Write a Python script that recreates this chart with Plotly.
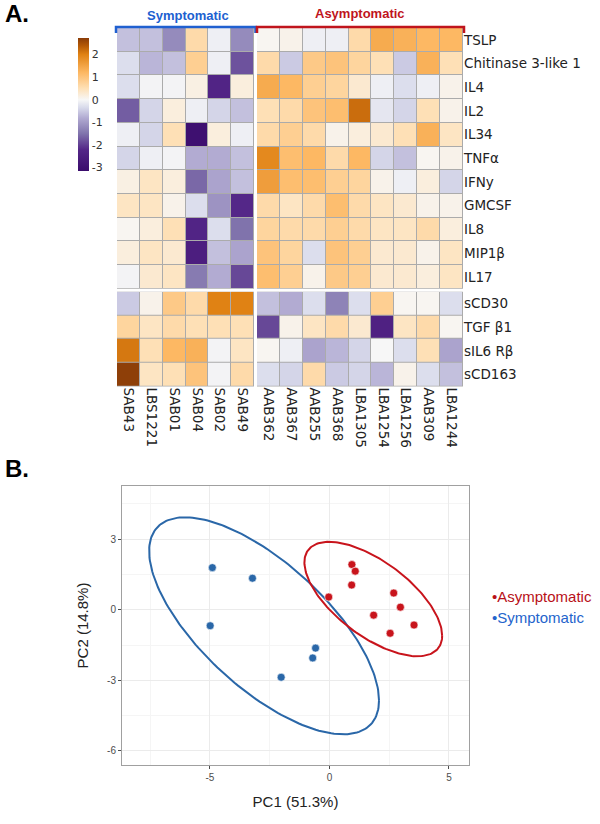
import numpy as np
import plotly.graph_objects as go

W, H = 600, 824

# ---------------- data ----------------
symptomatic = ["SAB43", "LBS1221", "SAB01", "SAB04", "SAB02", "SAB49"]
asymptomatic = ["AAB362", "AAB367", "AAB255", "AAB368", "LBA1305",
                "LBA1254", "LBA1256", "AAB309", "LBA1244"]
rows_top = ["TSLP", "Chitinase 3-like 1", "IL4", "IL2", "IL34", "TNFα",
            "IFNy", "GMCSF", "IL8", "MIP1β", "IL17"]
rows_bottom = ["sCD30", "TGF β1", "sIL6 Rβ", "sCD163"]

# z-scores, one row per analyte: 6 symptomatic then 9 asymptomatic
zscores = [
    [-0.6, -0.6, -1.2, 0.6, -0.1, -1.2, 0.05, 0.1, -0.1, -0.1, 0.6, 1.4, 1.3, 1.2, 1.2],
    [-0.3, -0.7, -0.6, 0.8, -0.1, -1.8, 0.6, -0.5, 0.9, 1.0, 0.7, 0.5, -0.5, 1.3, 0.5],
    [-0.3, -0.05, -0.05, 0.15, -2.3, 0.2, 1.4, 1.2, 0.8, 0.7, 0.3, -0.1, -0.3, -0.1, 0.1],
    [-1.7, -0.4, 0.2, -0.1, -0.4, -0.6, 0.5, 0.6, 1.0, 1.1, 2.2, -0.2, -0.4, 0.5, 0.1],
    [-0.1, -0.4, 0.5, -3.0, 0.2, -0.1, 0.6, 0.8, 0.6, 0.1, 0.2, 0.3, 0.5, 1.3, 0.4],
    [-0.4, -0.1, -0.05, -0.8, -0.8, -0.6, 1.9, 1.1, 1.2, 0.6, 1.2, -0.4, -0.6, 0.05, 0.1],
    [0.15, 0.4, 0.2, -1.6, -0.9, -0.6, 1.6, 1.1, 1.1, 0.8, 0.7, 0.1, -0.1, 0.2, -0.4],
    [0.4, 0.4, 0.1, -0.3, -1.1, -2.2, 0.6, 0.4, 0.6, 1.1, 0.6, 0.4, 0.3, 0.1, 0.1],
    [0.05, 0.2, 0.5, -2.3, -0.3, -1.5, 0.7, 0.6, 0.6, 0.8, 0.6, 0.4, 0.4, 0.6, 0.2],
    [0.2, 0.4, 0.3, -2.5, -0.6, -0.9, 1.0, 0.7, -0.3, 1.0, 0.8, 0.3, 0.3, 0.1, 0.4],
    [-0.05, 0.3, 0.4, -1.4, -0.8, -1.9, 1.1, 0.8, 0.1, 0.9, 0.8, 0.3, 0.3, 0.2, 0.4],
    [-0.5, 0.1, 0.9, 0.6, 2.0, 2.0, -0.6, -0.8, -0.3, -1.3, -0.3, 0.8, 0.05, 0.05, -0.3],
    [0.7, 0.4, 0.6, 0.5, 0.5, 0.5, -1.9, 0.1, 0.4, 0.6, 0.3, -2.4, 0.4, 0.6, 0.05],
    [2.1, 0.5, 1.2, 1.3, -0.05, 0.4, 0.05, -0.1, -0.9, -0.7, -0.4, 0.0, -0.3, 0.5, -0.9],
    [2.7, 0.4, 0.5, 1.0, -0.05, 0.6, -0.3, -0.4, 0.6, -0.5, -0.4, -0.7, 0.1, -0.3, -0.6],
]
colorbar_ticks = [-3, -2, -1, 0, 1, 2]

# PCA scores
symp_pc1 = [-4.9, -3.22, -4.99, -0.58, -0.70, -2.02]
symp_pc2 = [1.79, 1.34, -0.68, -1.63, -2.05, -2.87]
asym_pc1 = [-0.03, 0.94, 1.08, 0.93, 2.69, 2.97, 1.85, 3.54, 2.54]
asym_pc2 = [0.54, 1.92, 1.64, 1.05, 0.71, 0.11, -0.23, -0.65, -1.0]
pc1_ticks = [-5, 0, 5]
pc2_ticks = [-6, -3, 0, 3]

# ---------------- helpers ----------------
def px(x):
    return x / W

def py(y):
    return 1 - y / H

Z = np.array(zscores)
ns = len(symptomatic)
nt = len(rows_top)

zmin, zmax = -3.15, 2.73
stops = [(-3.15, "#3a0c6c"), (-2.2, "#542788"), (-1.5, "#8073ac"), (-0.8, "#b2abd2"),
         (-0.35, "#d8daeb"), (0.0, "#f7f7f7"), (0.5, "#fee0b6"), (1.2, "#fdb863"),
         (2.0, "#e08214"), (2.4, "#b35806"), (2.73, "#8a3c08")]
colorscale = [[(v - zmin) / (zmax - zmin), c] for v, c in stops]

RED = "#c8141c"
BLUE = "#2a67a8"

fig = go.Figure()

blocks = [
    (Z[:nt, :ns], symptomatic, rows_top, "x", "y"),
    (Z[:nt, ns:], asymptomatic, rows_top, "x2", "y"),
    (Z[nt:, :ns], symptomatic, rows_bottom, "x", "y2"),
    (Z[nt:, ns:], asymptomatic, rows_bottom, "x2", "y2"),
]
for z, xs, ys, xa, ya in blocks:
    fig.add_trace(go.Heatmap(z=z, x=xs, y=ys, xaxis=xa, yaxis=ya,
                             coloraxis="coloraxis", xgap=1, ygap=1,
                             hoverinfo="skip"))

# ellipses (95% normal confidence ellipses from the scores)
t = np.linspace(0, 2 * np.pi, 200)
r = np.sqrt(-2 * np.log(0.05))
for xs_, ys_, col in [(symp_pc1, symp_pc2, BLUE), (asym_pc1, asym_pc2, RED)]:
    pts = np.vstack([xs_, ys_])
    mu = pts.mean(axis=1)
    L = np.linalg.cholesky(np.cov(pts))
    e = mu[:, None] + r * L @ np.vstack([np.cos(t), np.sin(t)])
    fig.add_trace(go.Scatter(x=e[0], y=e[1], mode="lines", xaxis="x3", yaxis="y3",
                             line=dict(color=col, width=2), showlegend=False,
                             hoverinfo="skip"))

fig.add_trace(go.Scatter(x=symp_pc1, y=symp_pc2, mode="markers", xaxis="x3", yaxis="y3",
                         marker=dict(color=BLUE, size=8, line=dict(color="white", width=0.6)),
                         name="Symptomatic", showlegend=False))
fig.add_trace(go.Scatter(x=asym_pc1, y=asym_pc2, mode="markers", xaxis="x3", yaxis="y3",
                         marker=dict(color=RED, size=8, line=dict(color="white", width=0.6)),
                         name="Asymptomatic", showlegend=False))

# heatmap geometry (px)
xL0, xL1, xR0, xR1 = 117, 254, 257, 463
yT0, yT1, yB0, yB1 = 28, 288.7, 291.7, 386.5

lab_font = dict(family="DejaVu Sans", size=13.5, color="#222222")
hm_axis = dict(showgrid=False, zeroline=False, showline=False, ticks="",
               fixedrange=True)

shapes = []
for x0, x1 in [(xL0, xL1), (xR0, xR1)]:
    for y0, y1 in [(yT0, yT1), (yB0, yB1)]:
        shapes.append(dict(type="rect", xref="paper", yref="paper", layer="below",
                           x0=px(x0), x1=px(x1), y0=py(y1), y1=py(y0),
                           fillcolor="#ababab", line=dict(width=0)))

# group brackets
def bracket(x0, x1, col):
    pth = (f"M {px(x0)},{py(33)} L {px(x0)},{py(27)} L {px(x1)},{py(27)} "
           f"L {px(x1)},{py(33)}")
    return dict(type="path", xref="paper", yref="paper", path=pth,
                line=dict(color=col, width=2.5))

shapes.append(bracket(116, 255.5, "#2060d0"))
shapes.append(bracket(257, 464, "#c0141c"))

def ann(text, x, y, size, color, xanchor="left", family="Liberation Sans"):
    return dict(text=text, x=px(x), y=py(y), xref="paper", yref="paper",
                xanchor=xanchor, yanchor="middle", showarrow=False,
                font=dict(family=family, size=size, color=color))

annotations = [
    ann("<b>A.</b>", 3, 13, 24, "black"),
    ann("<b>B.</b>", 3, 468, 24, "black"),
    ann("<b>Symptomatic</b>", 188, 15, 13, "#2060d0", "center"),
    ann("<b>Asymptomatic</b>", 360, 14, 13, "#c0141c", "center"),
    ann("•Asymptomatic", 490, 596, 15, "#b81018"),
    ann("•Symptomatic", 490, 617, 15, "#2464cc"),
]

pca_axis = dict(showgrid=True, gridcolor="#ebebeb", gridwidth=1, zeroline=False,
                showline=True, mirror=True, linecolor="#a0a0a0", linewidth=1,
                ticks="outside", ticklen=3, tickcolor="#4d4d4d", tickwidth=1,
                tickfont=dict(family="Liberation Sans", size=10, color="#4d4d4d"),
                title_font=dict(family="Liberation Sans", size=15, color="#222222"),
                fixedrange=True)

fig.update_layout(
    width=W, height=H, margin=dict(l=0, r=0, t=0, b=0),
    paper_bgcolor="white", plot_bgcolor="white", template="none",
    font=dict(family="DejaVu Sans"),
    showlegend=False,
    coloraxis=dict(colorscale=colorscale, cmin=zmin, cmax=zmax,
                   colorbar=dict(x=px(68), xanchor="left", xref="paper",
                                 y=py(28), yanchor="top", yref="paper",
                                 lenmode="pixels", len=153, thickness=11,
                                 outlinewidth=0, ticks="", tickvals=colorbar_ticks,
                                 ticktext=[str(v) for v in colorbar_ticks],
                                 tickfont=dict(family="DejaVu Sans", size=11, color="#333333"))),
    xaxis=dict(hm_axis, domain=[px(xL0), px(xL1)], anchor="y2", side="bottom",
               tickangle=90, tickfont=lab_font),
    xaxis2=dict(hm_axis, domain=[px(xR0), px(xR1)], anchor="y2", side="bottom",
                tickangle=90, tickfont=lab_font),
    yaxis=dict(hm_axis, domain=[py(yT1), py(yT0)], anchor="x2", side="right",
               autorange="reversed", tickfont=lab_font),
    yaxis2=dict(hm_axis, domain=[py(yB1), py(yB0)], anchor="x2", side="right",
                autorange="reversed", tickfont=lab_font),
    xaxis3=dict(pca_axis, domain=[px(122), px(469)], anchor="y3", range=[-8.68, 5.84],
                tickvals=pc1_ticks, ticktext=[str(v) for v in pc1_ticks],
                minor=dict(dtick=2.5, tick0=0, showgrid=True, gridcolor="#f5f5f5", ticks=""),
                title=dict(text="PC1 (51.3%)", standoff=14)),
    yaxis3=dict(pca_axis, domain=[py(765), py(486)], anchor="x3", range=[-6.6, 5.26],
                tickvals=pc2_ticks, ticktext=[str(v) for v in pc2_ticks],
                minor=dict(dtick=1.5, tick0=0, showgrid=True, gridcolor="#f5f5f5", ticks=""),
                title=dict(text="PC2 (14.8%)", standoff=14)),
    shapes=shapes, annotations=annotations,
)

fig.write_html("out.html", config={"displayModeBar": False},
               post_script="document.body.style.margin='0';")
